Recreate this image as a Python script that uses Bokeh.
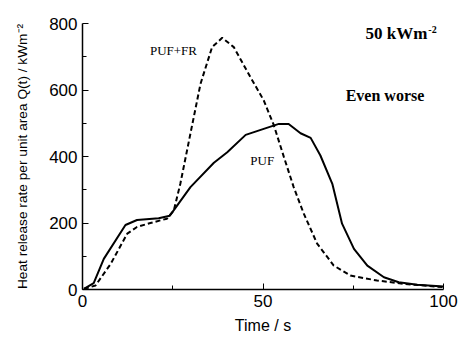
from bokeh.plotting import figure
from bokeh.models import FixedTicker, Label
from bokeh.embed import file_html
from bokeh.resources import INLINE

# PUF (solid)
puf_t = [0.4, 3.1, 5.9, 11.9, 15.1, 21.1, 24.2, 29.9, 36.4, 40.1, 45.2, 50.2, 54.4, 57.1,
         60.4, 63.2, 65.9, 69.2, 71.9, 75.2, 78.9, 83.5, 87.6, 92.7, 100]
puf_q = [2, 19, 92, 194, 209, 214, 222, 308, 381, 413, 465, 483, 498, 498,
         470, 456, 403, 318, 198, 122, 72, 37, 22, 14, 9]

# PUF+FR (dashed)
fr_t = [0.4, 3.6, 7.8, 12.4, 15.1, 18.8, 23.4, 25.3, 27.1, 29.9, 32.7, 35.9, 38.7, 41.9,
        46.5, 50.2, 53.0, 55.8, 58.5, 61.3, 65.0, 69.6, 74.2, 81.6, 89.0, 100]
fr_q = [2, 12, 77, 168, 188, 200, 213, 238, 318, 469, 619, 729, 757, 729,
        639, 569, 494, 398, 308, 228, 138, 72, 42, 27, 17, 7]

x_ticks = [0, 50, 100]
x_minor = [25, 75]
y_ticks = [0, 200, 400, 600, 800]
y_minor = [100, 300, 500, 700]

p = figure(width=469, height=340, x_range=(0, 100), y_range=(0, 800),
           output_backend="svg", toolbar_location=None,
           min_border_left=82, min_border_right=26, min_border_top=23, min_border_bottom=51)
p.xgrid.visible = False
p.ygrid.visible = False
p.outline_line_color = None
p.background_fill_color = None
p.border_fill_color = "white"

p.line(puf_t, puf_q, line_color="black", line_width=2)
p.line(fr_t, fr_q, line_color="black", line_width=2, line_dash="5 3")

for ax in (p.xaxis[0], p.yaxis[0]):
    ax.major_tick_in = 6
    ax.major_tick_out = 0
    ax.minor_tick_in = 4
    ax.minor_tick_out = 0
    ax.axis_line_color = "black"
    ax.axis_line_width = 1.5
    ax.major_tick_line_width = 1
    ax.minor_tick_line_width = 1
    ax.major_label_text_font = "Liberation Sans"
    ax.major_label_text_font_size = "17px"
    ax.major_label_text_color = "black"
    ax.axis_label_text_font = "Liberation Sans"
    ax.axis_label_text_font_style = "normal"
    ax.axis_label_text_color = "black"

p.xaxis.axis_label_text_font_size = "16px"
p.yaxis.axis_label_text_font_size = "13.7px"
p.xaxis.ticker = FixedTicker(ticks=x_ticks, minor_ticks=x_minor)
p.yaxis.ticker = FixedTicker(ticks=y_ticks, minor_ticks=y_minor)
p.xaxis.axis_label = "Time / s"
p.yaxis.axis_label = "Heat release rate per unit area Q(t) / kWm⁻²"
p.xaxis.major_label_standoff = 5
p.xaxis.axis_label_standoff = 7
p.yaxis.major_label_standoff = 5
p.yaxis.axis_label_standoff = 16

serif = "Liberation Serif"
p.add_layout(Label(x=25.2, y=719, text="PUF+FR", text_font=serif, text_font_size="13px",
                   text_align="center", text_baseline="middle", text_color="black"))
p.add_layout(Label(x=49.8, y=388, text="PUF", text_font=serif, text_font_size="13px",
                   text_align="center", text_baseline="middle", text_color="black"))
p.add_layout(Label(x=78.4, y=770, text="50 kWm", text_font=serif, text_font_size="17px",
                   text_font_style="bold", text_align="left", text_baseline="middle",
                   text_color="black"))
p.add_layout(Label(x=95.8, y=781, text="-2", text_font=serif, text_font_size="10px",
                   text_font_style="bold", text_align="left", text_baseline="middle",
                   text_color="black"))
p.add_layout(Label(x=72.9, y=583, text="Even worse", text_font=serif, text_font_size="16px",
                   text_font_style="bold", text_align="left", text_baseline="middle",
                   text_color="black"))

open("out.html", "w").write(file_html(p, INLINE))
